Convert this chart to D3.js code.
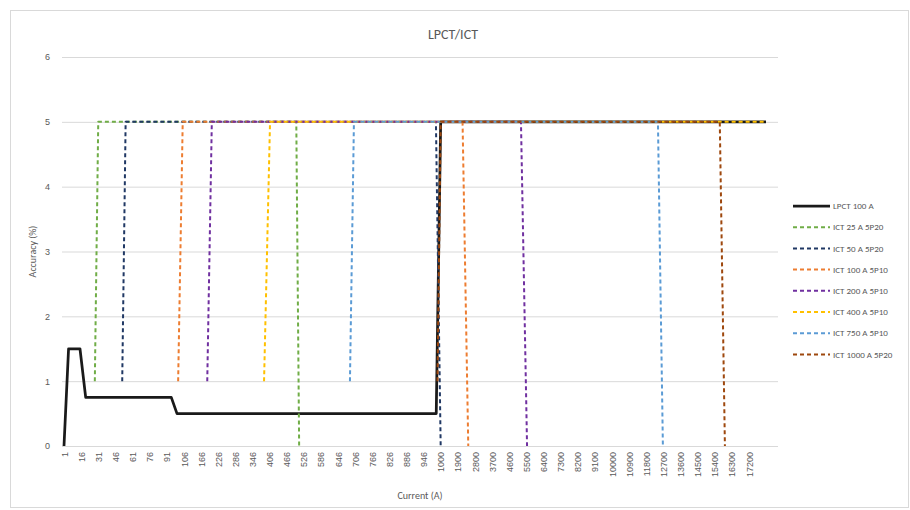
<!DOCTYPE html>
<html>
<head>
<meta charset="utf-8">
<script src="https://cdn.jsdelivr.net/npm/d3@7"></script>
<style>
  body { margin: 0; background: #fff; }
  svg { font-family: Calibri, Carlito, "Liberation Sans", Arial, sans-serif; }
</style>
</head>
<body>
<svg id="chart" width="910" height="510"></svg>
<script>
// category labels on the x axis (every Nth row of the sheet)
const tickLabels = ["1", "16", "31", "46", "61", "76", "91",
  "106", "166", "226", "286", "346", "406", "466", "526", "586", "646", "706", "766", "826", "886", "946",
  "1000", "1900", "2800", "3700", "4600", "5500", "6400", "7300", "8200", "9100",
  "10000", "10900", "11800", "12700", "13600", "14500", "15400", "16300", "17200"];
const lastCurrent = 18100;

const yTicks = [0, 1, 2, 3, 4, 5, 6];

// [current A, accuracy %]
const lpct100 = [[1, 0], [5, 1.5], [15, 1.5], [20, 0.75], [95, 0.75], [100, 0.5], [986, 0.5], [1000, 5], [18100, 5]];
const ict25 = [[28, 1], [31, 5], [500, 5], [510, 0]];
const ict50 = [[52, 1], [55, 5], [985, 5], [1000, 0]];
const ict100 = [[101, 1], [105, 5], [2150, 5], [2450, 0]];
const ict200 = [[188, 1], [204, 5], [5220, 5], [5540, 0]];
const ict400 = [[387, 1], [408, 5], [18100, 5]];
const ict750 = [[688, 1], [702, 5], [12420, 5], [12680, 0]];
const ict1000 = [[990, 1], [1000, 5], [15670, 5], [15940, 0]];

const seriesNames = ["LPCT 100 A", "ICT 25 A 5P20", "ICT 50 A 5P20", "ICT 100 A 5P10",
  "ICT 200 A 5P10", "ICT 400 A 5P10", "ICT 750 A 5P10", "ICT 1000 A 5P20"];
const seriesColors = ["#1a1a1a", "#70AD47", "#203864", "#ED7D31", "#7030A0", "#FFC000", "#5B9BD5", "#9E480E"];
const seriesData = [lpct100, ict25, ict50, ict100, ict200, ict400, ict750, ict1000];

const svg = d3.select("#chart");
const textColor = "#595959";
const gridColor = "#D9D9D9";

// chart border
svg.append("rect")
  .attr("x", 10.5).attr("y", 10.5)
  .attr("width", 898).attr("height", 497)
  .attr("fill", "#fff").attr("stroke", gridColor);

const plot = { left: 62, right: 778, top: 57, bottom: 446 };

// category index -> pixel, and current -> category index (piecewise)
const idx = d3.scaleLinear().domain([0, 41]).range([64, 766]);
const currentToIdx = d3.scaleLinear()
  .domain(tickLabels.map(Number).concat([lastCurrent]))
  .range(d3.range(tickLabels.length + 1));
const x = c => idx(currentToIdx(c));
const y = d3.scaleLinear().domain([0, 6]).range([plot.bottom, plot.top]);

// gridlines + y axis labels
svg.append("g")
  .selectAll("line")
  .data(yTicks)
  .enter().append("line")
    .attr("x1", plot.left).attr("x2", plot.right)
    .attr("y1", d => y(d) + 0.5).attr("y2", d => y(d) + 0.5)
    .attr("stroke", gridColor).attr("stroke-width", 1);

const yAxis = svg.append("g")
  .attr("transform", "translate(" + (plot.left - 12) + ",0)")
  .call(d3.axisLeft(y).tickValues(yTicks).tickFormat(d3.format("d")).tickSize(0).tickPadding(0));
yAxis.select(".domain").remove();
yAxis.selectAll("text").attr("fill", textColor).attr("font-size", 9);

// x axis with rotated category labels
const xAxis = svg.append("g")
  .attr("transform", "translate(0," + plot.bottom + ")")
  .call(d3.axisBottom(idx).tickValues(d3.range(tickLabels.length)).tickSize(0)
    .tickFormat(i => tickLabels[i]));
xAxis.select(".domain").remove();
xAxis.selectAll("text")
  .attr("fill", textColor)
  .attr("font-size", 9)
  .attr("text-anchor", "end")
  .attr("transform", "translate(0,6) rotate(-90)")
  .attr("x", 0).attr("y", 0).attr("dy", "0.35em");

// series
const line = d3.line().x(d => x(d[0])).y(d => y(d[1]));

svg.append("g")
  .selectAll("path")
  .data(seriesData)
  .enter().append("path")
    .attr("d", line)
    .attr("fill", "none")
    .attr("stroke", (d, i) => seriesColors[i])
    .attr("stroke-width", (d, i) => i == 0 ? 2.75 : 2)
    .attr("stroke-dasharray", (d, i) => i == 0 ? null : "4,3")
    .attr("stroke-linejoin", "round");

// titles
svg.append("text")
  .attr("x", 453).attr("y", 39)
  .attr("text-anchor", "middle")
  .attr("font-size", 14).attr("fill", textColor)
  .text("LPCT/ICT");

svg.append("text")
  .attr("transform", "translate(36," + ((plot.top + plot.bottom) / 2) + ") rotate(-90)")
  .attr("text-anchor", "middle")
  .attr("font-size", 10).attr("fill", textColor)
  .text("Accuracy (%)");

svg.append("text")
  .attr("x", (plot.left + plot.right) / 2).attr("y", 499)
  .attr("text-anchor", "middle")
  .attr("font-size", 10).attr("fill", textColor)
  .text("Current (A)");

// legend
const legend = svg.append("g")
  .selectAll("g")
  .data(seriesNames)
  .enter().append("g")
    .attr("transform", (d, i) => "translate(793," + (206 + i * 21.2) + ")");

legend.append("line")
  .attr("x1", 0).attr("x2", 37)
  .attr("stroke", (d, i) => seriesColors[i])
  .attr("stroke-width", (d, i) => i == 0 ? 2.75 : 2)
  .attr("stroke-dasharray", (d, i) => i == 0 ? null : "4,3");

legend.append("text")
  .attr("x", 40).attr("dy", "0.35em")
  .attr("font-size", 9).attr("fill", textColor)
  .text(d => d);
</script>
</body>
</html>
